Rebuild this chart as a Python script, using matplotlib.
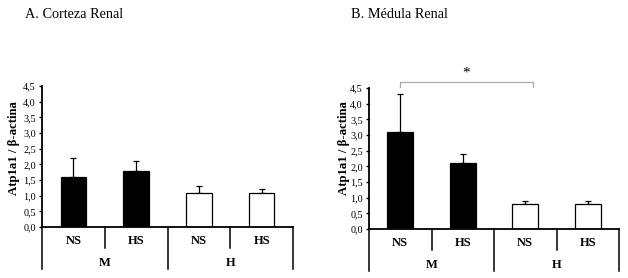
import matplotlib
matplotlib.use("Agg")
import matplotlib.pyplot as plt
import matplotlib.transforms as mtransforms

plt.rcParams['font.family'] = ['Liberation Serif', 'DejaVu Serif']

conditions = ["NS", "HS", "NS", "HS"]
groups = ["M", "H"]
cortex_means = [1.6, 1.8, 1.1, 1.1]
cortex_err = [0.6, 0.3, 0.2, 0.1]
medulla_means = [3.1, 2.1, 0.8, 0.8]
medulla_err = [1.2, 0.3, 0.1, 0.1]
bar_colors = ["black", "black", "white", "white"]
yticks = [0.0, 0.5, 1.0, 1.5, 2.0, 2.5, 3.0, 3.5, 4.0, 4.5]
ylabel = "Atp1a1 / β-actina"
titles = ["A. Corteza Renal", "B. Médula Renal"]

W, H = 628, 278
fig = plt.figure(figsize=(W / 100, H / 100), dpi=100)


def make_axes(x0, x1, ytop, ybot):
    return fig.add_axes([x0 / W, 1 - ybot / H, (x1 - x0) / W, (ybot - ytop) / H])


def draw_panel(ax, means, errs):
    xs = [0.5, 1.5, 2.5, 3.5]
    ax.bar(xs, means, width=0.41, color=bar_colors, edgecolor="black", linewidth=0.9, zorder=2)
    ax.errorbar(xs, means, yerr=[[0] * 4, errs], fmt="none", ecolor="black",
                elinewidth=0.9, capsize=2.2, capthick=0.9, zorder=1)
    ax.set_xlim(0, 4)
    ax.set_ylim(0, 4.5)
    ax.set_yticks(yticks)
    ax.set_yticklabels([f"{v:.1f}".replace(".", ",") for v in yticks], fontsize=7.3)
    ax.set_xticks([])
    for s in ["top", "right"]:
        ax.spines[s].set_visible(False)
    ax.spines["left"].set_linewidth(1.3)
    ax.spines["bottom"].set_linewidth(1.3)
    ax.tick_params(axis="y", direction="out", length=2.5, width=1.0, pad=2)
    ax.patch.set_visible(False)
    trans = mtransforms.blended_transform_factory(ax.transData, ax.transAxes)
    # category table lines
    for xv, full in [(0, True), (1, False), (2, True), (3, False), (4, True)]:
        ybottom = -0.30 if full else -0.15
        ax.plot([xv, xv], [0, ybottom], color="black", lw=1.1, transform=trans, clip_on=False)
    for xv, lab in zip(xs, conditions):
        ax.text(xv, -0.10, lab, transform=trans, ha="center", va="center",
                fontsize=9, fontweight="bold")
    for xv, lab in zip([1, 3], groups):
        ax.text(xv, -0.255, lab, transform=trans, ha="center", va="center",
                fontsize=9, fontweight="bold")


ax1 = make_axes(42, 293, 86, 227)
draw_panel(ax1, cortex_means, cortex_err)
ax2 = make_axes(369, 619, 88, 229)
draw_panel(ax2, medulla_means, medulla_err)

for ax in (ax1, ax2):
    ax.set_ylabel(ylabel, fontsize=9.2, fontweight="bold")
ax1.yaxis.set_label_coords(-0.088, 0.557)
ax2.yaxis.set_label_coords(-0.076, 0.571)

fig.text(25 / W, 1 - 14 / H, titles[0], fontsize=10.3, ha="left", va="center")
fig.text(351 / W, 1 - 14 / H, titles[1], fontsize=10.3, ha="left", va="center")

# significance bracket
bc = "#9fb0ad"
ax2.plot([0.5, 0.5, 2.62, 2.62], [4.53, 4.69, 4.69, 4.53], color=bc, lw=0.9, clip_on=False)
ax2.text(1.55, 4.98, "*", ha="center", va="center", fontsize=11, clip_on=False)

fig.savefig("out.png", dpi=100)
